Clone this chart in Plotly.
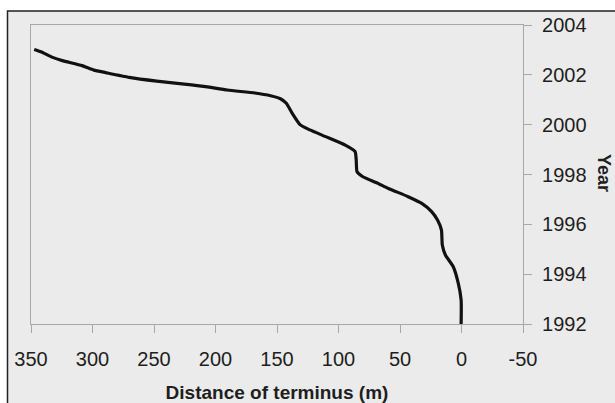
import plotly.graph_objects as go

# Distance of terminus (m) vs year
distance = [347.4, 342.0, 332.4, 324.5, 308.5, 298.9, 289.3, 270.2, 247.8, 225.4,
            209.5, 190.3, 168.0, 155.2, 147.2, 142.4, 137.6, 131.3, 123.3, 110.5,
            94.5, 86.5, 85.6, 84.9, 80.2, 69.0, 59.4, 43.4, 32.3, 24.3,
            19.5, 16.3, 15.6, 13.1, 6.7, 2.6, 0.3, 0.3]
year = [2003.02, 2002.93, 2002.70, 2002.57, 2002.37, 2002.19, 2002.09, 2001.90, 2001.75, 2001.63,
        2001.54, 2001.39, 2001.27, 2001.16, 2001.04, 2000.86, 2000.45, 2000.00, 1999.79, 1999.52,
        1999.18, 1998.92, 1998.58, 1998.11, 1997.91, 1997.67, 1997.44, 1997.11, 1996.84, 1996.51,
        1996.17, 1995.77, 1995.17, 1994.77, 1994.30, 1993.63, 1992.96, 1992.00]

x_ticks = [350, 300, 250, 200, 150, 100, 50, 0, -50]
y_ticks = [1992, 1994, 1996, 1998, 2000, 2002, 2004]

BG = "#ebebeb"
AXIS = "#a8a8a8"
TXT = "#1e1e1e"
FONT = "Liberation Sans, Arial, sans-serif"

fig = go.Figure()
fig.add_trace(go.Scatter(
    x=distance, y=year, mode="lines",
    line=dict(color="#111111", width=3.2, shape="spline", smoothing=0.5),
    showlegend=False, hoverinfo="skip",
))

L, R, T, B = 31, 92, 25, 79
W, H = 615, 403
pw, ph = W - L - R, H - T - B

def px2paper_x(px):
    return (px - L) / pw

def py2paper_y(py):
    return (H - B - py) / ph

# outer framed background box
fig.add_shape(type="rect", xref="paper", yref="paper", layer="below",
              x0=px2paper_x(7.5), x1=px2paper_x(640),
              y0=py2paper_y(430), y1=py2paper_y(11),
              fillcolor=BG, line=dict(color="#222222", width=1.5))

fig.update_layout(
    width=W, height=H,
    margin=dict(l=L, r=R, t=T, b=B, pad=0, autoexpand=False),
    paper_bgcolor="white", plot_bgcolor="rgba(0,0,0,0)",
    font=dict(family=FONT, size=20, color=TXT),
    xaxis=dict(
        range=[350, -50], tickvals=x_ticks, ticktext=[str(v) for v in x_ticks],
        showgrid=False, zeroline=False, automargin=False,
        showline=True, linecolor=AXIS, linewidth=1.2, mirror=True,
        ticks="outside", ticklen=8, tickcolor=AXIS, tickwidth=1.2,
        ticklabelstandoff=9,
        tickfont=dict(family=FONT, size=20, color=TXT),
        title=dict(text="<b>Distance of terminus (m)</b>", standoff=18,
                   font=dict(family=FONT, size=19, color=TXT)),
    ),
    yaxis=dict(
        range=[1992, 2004], tickvals=y_ticks, ticktext=[str(v) for v in y_ticks],
        side="right",
        showgrid=False, zeroline=False, automargin=False,
        showline=True, linecolor=AXIS, linewidth=1.2, mirror=True,
        ticks="outside", ticklen=8, tickcolor=AXIS, tickwidth=1.2,
        ticklabelstandoff=6,
        tickfont=dict(family=FONT, size=20, color=TXT),
    ),
)

fig.add_annotation(text="<b>Year</b>", xref="paper", yref="paper",
                   x=px2paper_x(604), y=py2paper_y(173), showarrow=False,
                   textangle=90, xanchor="center", yanchor="middle",
                   font=dict(family=FONT, size=18, color=TXT))

fig.write_html("out.html", config={"displayModeBar": False},
               post_script="document.body.style.margin='0';document.body.style.overflow='hidden';")
